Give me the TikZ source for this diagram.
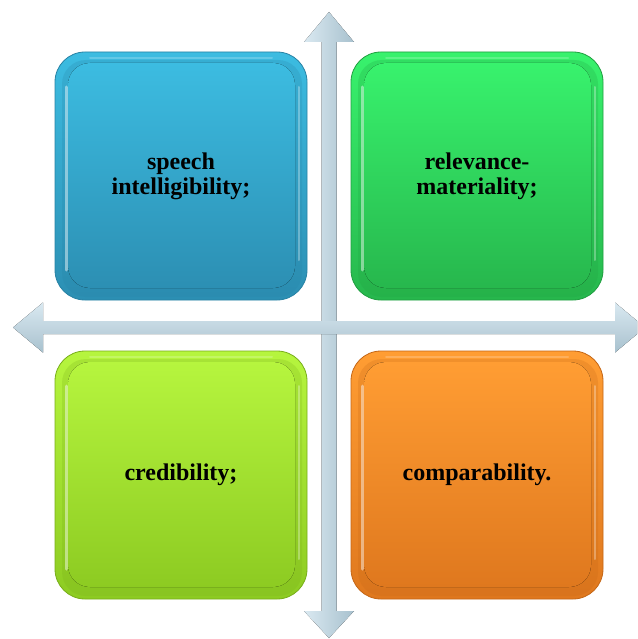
\documentclass[tikz,border=0pt]{standalone}
\usepackage{fontspec}
\setmainfont{Liberation Serif}
\definecolor{blueTop}{HTML}{3CBCE1}
\definecolor{blueBot}{HTML}{2C8FB3}
\definecolor{blueRim}{HTML}{2882A4}
\definecolor{greenTop}{HTML}{38F26D}
\definecolor{greenBot}{HTML}{27B74D}
\definecolor{greenRim}{HTML}{209E40}
\definecolor{limeTop}{HTML}{B6F53E}
\definecolor{limeBot}{HTML}{8DCB22}
\definecolor{limeRim}{HTML}{78AE1A}
\definecolor{orangeTop}{HTML}{FF9D33}
\definecolor{orangeBot}{HTML}{DF781E}
\definecolor{orangeRim}{HTML}{C46616}
\definecolor{axisLight}{HTML}{DAE9F1}
\definecolor{axisDark}{HTML}{A8C1CE}
\begin{document}
\begin{tikzpicture}[x=1pt,y=-1pt,
  quad/.style n args={3}{
    rounded corners=30pt, minimum width=252pt, minimum height=248pt,
    inner sep=0pt, align=center, text=black,
    font=\fontsize{24}{25}\selectfont\bfseries,
    top color=#1, bottom color=#2, draw=#3, line width=0.8pt,
    path picture={
      % bevel: soft dark band near the rim, then the inner face
      \fill[#3, opacity=0.22, rounded corners=24pt]
        ([shift={(7pt,3pt)}]path picture bounding box.south west) rectangle
        ([shift={(-5pt,-8pt)}]path picture bounding box.north east);
      \fill[top color=#1, bottom color=#2, rounded corners=22pt]
        ([shift={(13pt,12pt)}]path picture bounding box.south west) rectangle
        ([shift={(-12pt,-11pt)}]path picture bounding box.north east);
      % glossy highlights on the rim
      \draw[white, opacity=0.45, line width=3pt, line cap=round]
        ([shift={(11pt,30pt)}]path picture bounding box.south west) --
        ([shift={(11pt,-35pt)}]path picture bounding box.north west);
      \draw[white, opacity=0.3, line width=2pt, line cap=round]
        ([shift={(-8pt,40pt)}]path picture bounding box.south east) --
        ([shift={(-8pt,-35pt)}]path picture bounding box.north east);
      \draw[white, opacity=0.2, line width=2pt, line cap=round]
        ([shift={(35pt,-6pt)}]path picture bounding box.north west) --
        ([shift={(-35pt,-6pt)}]path picture bounding box.north east);
    }}
]
\useasboundingbox (0,0) rectangle (637,639);
\clip (0,0) rectangle (637,639);

% vertical double arrow
\fill[left color=axisLight, right color=axisDark]
  (329,12) -- (354,42) -- (336.5,42) -- (336.5,611) -- (354,611)
  -- (329,638) -- (304,611) -- (321.5,611) -- (321.5,42) -- (304,42) -- cycle;
% horizontal double arrow
\fill[top color=axisLight, bottom color=axisDark]
  (13,327.5) -- (43,302.5) -- (43,321) -- (615,321) -- (615,302.5)
  -- (645,327.5) -- (615,352.5) -- (615,334) -- (43,334) -- (43,352.5) -- cycle;

% the four quadrants
\node[quad={blueTop}{blueBot}{blueRim}]
  at (181,176) (sp) {speech\\intelligibility;};
\node[quad={greenTop}{greenBot}{greenRim}]
  at (477,176) (rel) {relevance-\\materiality;};
\node[quad={limeTop}{limeBot}{limeRim}]
  at (181,475) (cred) {credibility;};
\node[quad={orangeTop}{orangeBot}{orangeRim}]
  at (477,475) (comp) {comparability.};
\end{tikzpicture}
\end{document}
